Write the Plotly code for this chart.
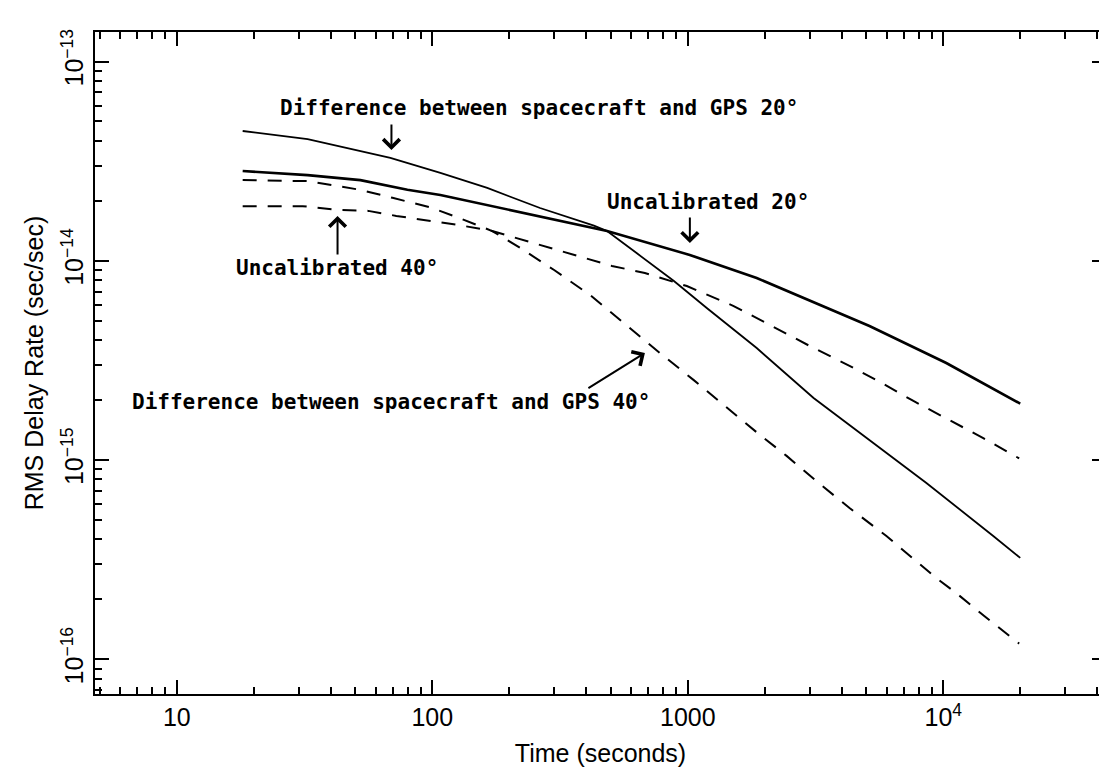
import numpy as np
import plotly.graph_objects as go

# ---------------- data ----------------
time_diff20 = [18.1, 32.5, 68.5, 107.5, 164, 264, 429, 483, 632, 882, 1186, 1860,
               3106, 5139, 8585, 15680, 20000]
rms_diff20 = [4.48e-14, 4.08e-14, 3.28e-14, 2.76e-14, 2.32e-14, 1.84e-14, 1.50e-14,
              1.41e-14, 1.09e-14, 7.92e-15, 5.80e-15, 3.65e-15, 2.05e-15, 1.26e-15,
              7.68e-16, 4.16e-16, 3.23e-16]

time_uncal20 = [18.1, 32.5, 52.3, 79.9, 107.5, 209, 483, 1018, 1860, 5139, 10270, 20000]
rms_uncal20 = [2.82e-14, 2.69e-14, 2.54e-14, 2.27e-14, 2.14e-14, 1.78e-14, 1.41e-14,
               1.07e-14, 8.20e-15, 4.71e-15, 3.07e-15, 1.92e-15]

time_diff40 = [18.1, 32.5, 42.6, 52.3, 69.8, 97.3, 127.5, 171.6, 220.8, 299.7, 414,
               509, 615, 777, 1055, 1420, 1911, 2436, 3248, 4294, 5988, 7171, 9391,
               11240, 14460, 19810]
rms_diff40 = [2.54e-14, 2.51e-14, 2.37e-14, 2.27e-14, 2.07e-14, 1.86e-14, 1.64e-14,
              1.41e-14, 1.16e-14, 8.99e-15, 6.74e-15, 5.41e-15, 4.39e-15, 3.45e-15,
              2.52e-15, 1.83e-15, 1.34e-15, 1.05e-15, 7.68e-16, 5.75e-16, 4.16e-16,
              3.42e-16, 2.56e-16, 2.15e-16, 1.65e-16, 1.20e-16]

time_uncal40 = [18.1, 31.1, 42.2, 56.2, 72.3, 102.7, 127.5, 171.6, 299.7, 504.8, 679,
                991, 1512, 2091, 2997, 4294, 5572, 7636, 10550, 14330, 19810]
rms_uncal40 = [1.88e-14, 1.88e-14, 1.80e-14, 1.78e-14, 1.68e-14, 1.58e-14, 1.51e-14,
               1.41e-14, 1.15e-14, 9.42e-15, 8.69e-15, 7.47e-15, 5.93e-15, 4.76e-15,
               3.74e-15, 2.97e-15, 2.49e-15, 1.98e-15, 1.59e-15, 1.29e-15, 1.02e-15]

x_tickvals = [10, 100, 1000, 10000]
x_ticktext = ["10", "100", "1000", "10<sup>4</sup>"]
y_tickvals = [1e-13, 1e-14, 1e-15, 1e-16]
y_ticktext = ["10<sup>−13</sup>", "10<sup>−14</sup>", "10<sup>−15</sup>", "10<sup>−16</sup>"]

label_diff20 = "Difference between spacecraft and GPS 20°"
label_uncal20 = "Uncalibrated 20°"
label_uncal40 = "Uncalibrated 40°"
label_diff40 = "Difference between spacecraft and GPS 40°"

# ---------------- figure ----------------
fig = go.Figure()
DASH = "14px,11px"
fig.add_trace(go.Scatter(x=time_diff20, y=rms_diff20, mode="lines",
                         line=dict(color="black", width=1.8), name=label_diff20))
fig.add_trace(go.Scatter(x=time_uncal20, y=rms_uncal20, mode="lines",
                         line=dict(color="black", width=2.6), name=label_uncal20))
fig.add_trace(go.Scatter(x=time_diff40, y=rms_diff40, mode="lines",
                         line=dict(color="black", width=2, dash=DASH), name=label_diff40))
fig.add_trace(go.Scatter(x=time_uncal40, y=rms_uncal40, mode="lines",
                         line=dict(color="black", width=2, dash=DASH), name=label_uncal40))

x_minor = [m * 10 ** e for e in range(0, 5) for m in range(2, 10)]
y_minor = [m * 10.0 ** e for e in range(-17, -12) for m in range(2, 10)]

ann_font = dict(family="DejaVu Sans Mono", size=21, color="black")
arrow = dict(showarrow=True, arrowhead=4, arrowsize=1.6, arrowwidth=2,
             arrowcolor="black", text="")

annotations = [
    dict(x=2.418, y=-13.233, text=f"<b>{label_diff20}</b>", showarrow=False,
         font=ann_font, xanchor="center", yanchor="middle"),
    dict(x=1.840, y=-13.444, ax=0, ay=-27, **arrow),
    dict(x=3.078, y=-13.705, text=f"<b>{label_uncal20}</b>", showarrow=False,
         font=ann_font, xanchor="center", yanchor="middle"),
    dict(x=3.008, y=-13.911, ax=0, ay=-27, **arrow),
    dict(x=1.625, y=-14.036, text=f"<b>{label_uncal40}</b>", showarrow=False,
         font=ann_font, xanchor="center", yanchor="middle"),
    dict(x=1.629, y=-13.775, ax=0, ay=40, **arrow),
    dict(x=1.838, y=-14.709, text=f"<b>{label_diff40}</b>", showarrow=False,
         font=ann_font, xanchor="center", yanchor="middle"),
    dict(x=2.832, y=-14.4626, ax=-58, ay=36, **arrow),
]

axis_font = dict(family="Liberation Sans", size=25, color="black")
fig.update_layout(
    width=1107, height=779,
    margin=dict(l=87, r=7, t=24, b=93),
    paper_bgcolor="white", plot_bgcolor="white",
    showlegend=False,
    annotations=annotations,
    xaxis=dict(
        type="log", range=[0.6797, 4.6367],
        tickvals=x_tickvals, ticktext=x_ticktext,
        ticks="inside", ticklen=14, tickwidth=2, tickcolor="black",
        showline=True, linecolor="black", linewidth=2, mirror="ticks",
        showgrid=False, zeroline=False,
        tickfont=axis_font,
        minor=dict(tickvals=x_minor, ticks="inside", ticklen=7, tickwidth=1.5,
                   tickcolor="black", showgrid=False),
        title=dict(text="Time (seconds)", font=dict(family="Liberation Sans", size=25, color="black"),
                   standoff=14),
    ),
    yaxis=dict(
        type="log", range=[-16.1736, -12.852],
        tickvals=y_tickvals, ticktext=y_ticktext, tickangle=-90,
        ticks="inside", ticklen=14, tickwidth=2, tickcolor="black",
        showline=True, linecolor="black", linewidth=2, mirror="ticks",
        showgrid=False, zeroline=False,
        tickfont=axis_font,
        minor=dict(tickvals=y_minor, ticks="inside", ticklen=7, tickwidth=1.5,
                   tickcolor="black", showgrid=False),
        title=dict(text="RMS Delay Rate (sec/sec)", font=dict(family="Liberation Sans", size=25, color="black"),
                   standoff=6),
    ),
)

fig.write_html("out.html")
